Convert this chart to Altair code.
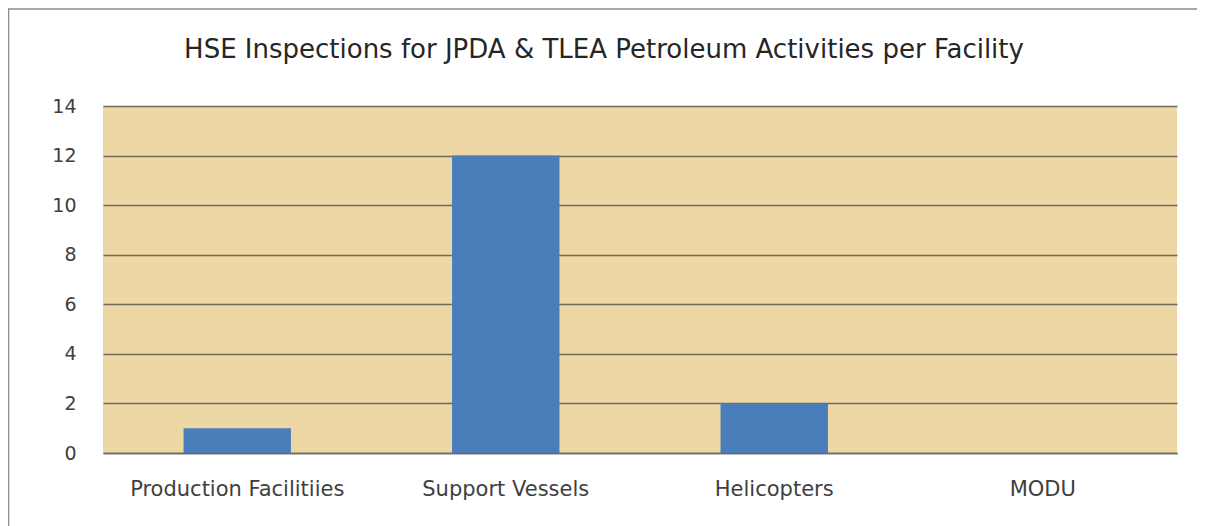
import altair as alt
import pandas as pd

categories = ["Production Facilitiies", "Support Vessels", "Helicopters", "MODU"]
inspections = [1, 12, 2, 0]
title_text = "HSE Inspections for JPDA & TLEA Petroleum Activities per Facility"

df = pd.DataFrame({"facility": categories, "count": inspections})

W, H = 1074, 347
PL, PT = 95, 98
FONT = "DejaVu Sans"

frame = alt.Chart(pd.DataFrame({"a": [0]})).mark_rect(
    fill="white", fillOpacity=0, stroke="#8c8c8c", strokeWidth=1.5
).encode(
    x=alt.value(-PL + 0.5), x2=alt.value(1096),
    y=alt.value(-PT + 1), y2=alt.value(H + 200)
)

title = alt.Chart(pd.DataFrame({"t": [title_text]})).mark_text(
    font=FONT, fontSize=26, color="#262626", baseline="middle", align="center"
).encode(
    text="t:N", x=alt.value(W / 2 - 36), y=alt.value(-56)
)

bars = alt.Chart(df).mark_bar(color="#4A7EBB").encode(
    x=alt.X("facility:N", sort=categories, title=None,
            scale=alt.Scale(paddingInner=0.6, paddingOuter=0.3),
            axis=alt.Axis(labelAngle=0, labelFontSize=21, labelColor="#404040",
                          labelFont=FONT, labelPadding=25, labelLimit=0, ticks=False,
                          domainColor="#6e6a5c", domainWidth=1.5, grid=False)),
    y=alt.Y("count:Q", title=None,
            scale=alt.Scale(domain=[0, 14], nice=False),
            axis=alt.Axis(values=[0, 2, 4, 6, 8, 10, 12, 14], labelFontSize=19,
                          labelColor="#404040", labelFont=FONT, labelPadding=27,
                          ticks=False, domain=False, grid=True,
                          gridColor="#6e6a5c", gridWidth=1.5, gridOpacity=1))
)

chart = alt.layer(frame, bars, title).properties(
    width=W, height=H,
    padding={"left": PL, "top": PT, "right": 20, "bottom": 80},
    autosize=alt.AutoSizeParams(type="none"),
    background="white"
).configure_view(stroke=None, fill="#EDD7A4")

chart.save("out.html", embed_options={"renderer": "svg", "actions": False})
